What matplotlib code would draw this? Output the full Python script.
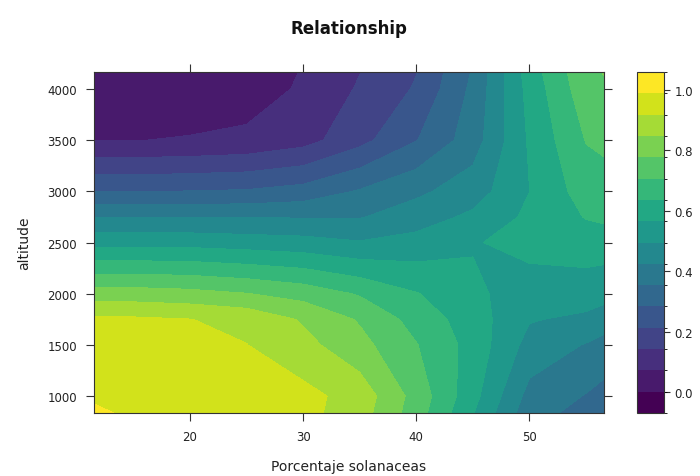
"""
Levelplot of fitted relationship: altitude vs porcentaje solanaceas
"""
import numpy as np
import matplotlib
matplotlib.use("Agg")
import matplotlib.pyplot as plt
from matplotlib.colors import ListedColormap, BoundaryNorm

plt.rcParams['font.family'] = ['DejaVu Sans']

# grid nodes
solanaceas = [11.5, 15, 20, 25, 30, 35, 40, 45, 50, 55, 56.6]
altitude = [835, 1000, 1500, 1750, 2000, 2500, 2750, 3000, 3500, 4000, 4165]

# fitted value at each node, one row per altitude (bottom to top)
fit_835 = [1.01, 0.97, 0.95, 0.95, 0.94, 0.88, 0.74, 0.57, 0.38, 0.33, 0.32]
fit_1000 = [0.97, 0.96, 0.955, 0.95, 0.94, 0.89, 0.75, 0.59, 0.40, 0.35, 0.33]
fit_1500 = [0.955, 0.955, 0.95, 0.92, 0.87, 0.80, 0.71, 0.61, 0.47, 0.42, 0.40]
fit_1750 = [0.93, 0.93, 0.92, 0.90, 0.84, 0.77, 0.68, 0.60, 0.50, 0.48, 0.46]
fit_2000 = [0.81, 0.81, 0.80, 0.78, 0.75, 0.70, 0.64, 0.58, 0.53, 0.53, 0.52]
fit_2500 = [0.54, 0.54, 0.54, 0.53, 0.52, 0.50, 0.52, 0.56, 0.59, 0.60, 0.60]
fit_2750 = [0.42, 0.42, 0.42, 0.42, 0.42, 0.42, 0.46, 0.51, 0.58, 0.64, 0.65]
fit_3000 = [0.28, 0.28, 0.285, 0.29, 0.31, 0.36, 0.41, 0.46, 0.565, 0.67, 0.68]
fit_3500 = [0.068, 0.07, 0.075, 0.085, 0.115, 0.19, 0.28, 0.39, 0.575, 0.71, 0.72]
fit_4000 = [0.03, 0.03, 0.035, 0.04, 0.08, 0.15, 0.22, 0.37, 0.59, 0.75, 0.77]
fit_4165 = [0.02, 0.02, 0.025, 0.03, 0.075, 0.14, 0.21, 0.36, 0.60, 0.76, 0.78]

key_min, key_max = -0.07, 1.06
n_cuts = 16
key_ticks = [0.0, 0.2, 0.4, 0.6, 0.8, 1.0]
x_ticks = [20, 30, 40, 50]
y_ticks = [1000, 1500, 2000, 2500, 3000, 3500, 4000]

Z = np.array([fit_835, fit_1000, fit_1500, fit_1750, fit_2000, fit_2500,
              fit_2750, fit_3000, fit_3500, fit_4000, fit_4165])
X, Y = np.meshgrid(solanaceas, altitude)

levels = np.linspace(key_min, key_max, n_cuts + 1)
cmap = ListedColormap(plt.get_cmap('viridis')(np.linspace(0, 1, n_cuts)))
norm = BoundaryNorm(levels, cmap.N)

fig = plt.figure(figsize=(7, 4.77), dpi=100)
ax = fig.add_axes([0.134, 0.132, 0.729, 0.715])
cax = fig.add_axes([0.910, 0.132, 0.038, 0.715])

ax.contourf(X, Y, Z, levels=levels, cmap=cmap, norm=norm, extend='both')
ax.set_xlim(solanaceas[0], solanaceas[-1])
ax.set_ylim(altitude[0], altitude[-1])
ax.set_xticks(x_ticks)
ax.set_yticks(y_ticks)
ax.tick_params(direction='out', length=6, width=0.8, labelsize=8.5, color='#333333',
               labelcolor='#222222', pad=6,
               top=True, right=True, labeltop=False, labelright=False)
for s in ax.spines.values():
    s.set_color('#333333')
    s.set_linewidth(0.8)
ax.set_xlabel('Porcentaje solanaceas', fontsize=10, color='#222222', labelpad=12)
ax.set_ylabel('altitude', fontsize=10, color='#222222', labelpad=12)
ax.set_title('Relationship', fontsize=12, fontweight='bold', color='#111111', pad=28)

# colour key
cb = fig.colorbar(plt.cm.ScalarMappable(norm=norm, cmap=cmap), cax=cax,
                  boundaries=levels, ticks=key_ticks)
cb.ax.set_yticklabels(['%.1f' % t for t in key_ticks])
cb.ax.tick_params(direction='out', length=4, width=0.8, labelsize=8.5, color='#333333',
                  labelcolor='#222222', pad=4)
cb.outline.set_edgecolor('#333333')
cb.outline.set_linewidth(0.8)

fig.savefig('out.png', dpi=100)
